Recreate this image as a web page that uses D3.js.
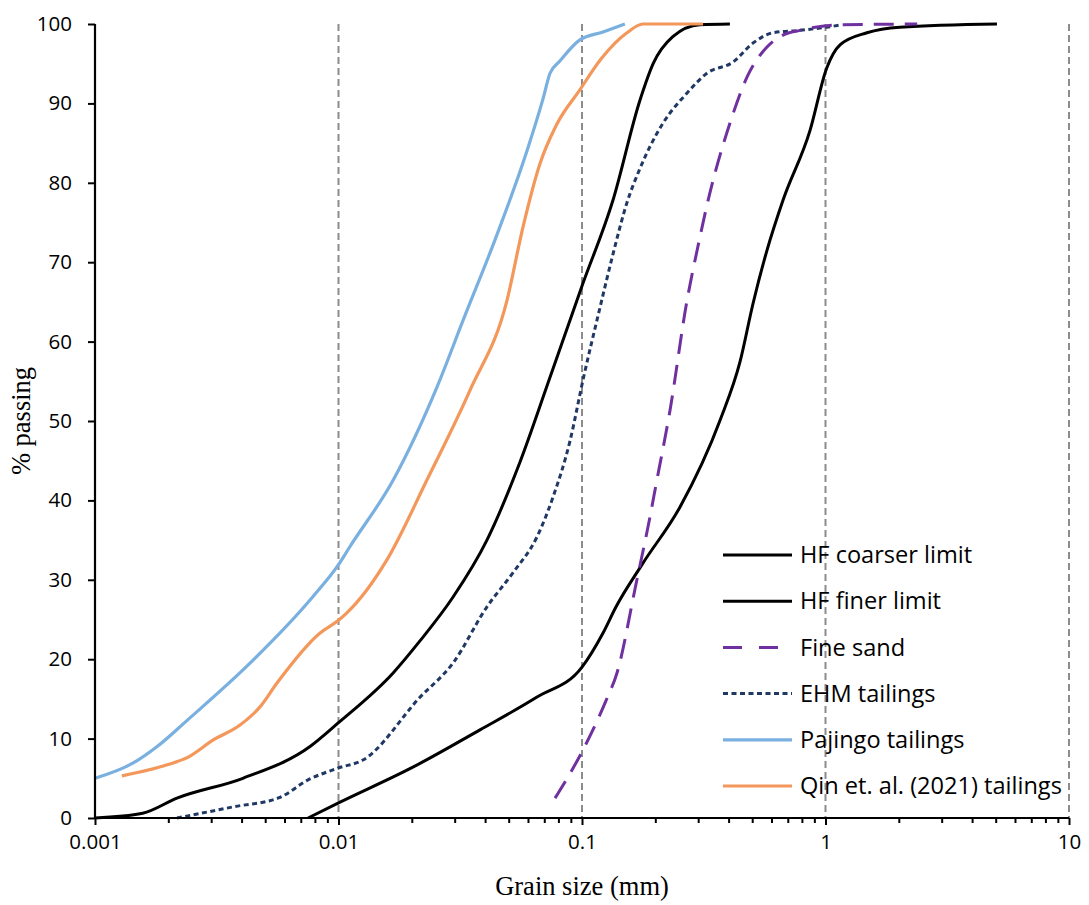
<!DOCTYPE html>
<html><head><meta charset="utf-8">
<script src="https://cdn.jsdelivr.net/npm/d3@7"></script>
<style>body{margin:0;background:#fff}</style>
</head><body>
<svg id="c" width="1089" height="905"></svg>
<script>
const seriesNames = ["HF coarser limit","HF finer limit","Fine sand","EHM tailings","Pajingo tailings","Qin et. al. (2021) tailings"];
const xTicks = [0.001, 0.01, 0.1, 1, 10];
const xTickLabels = ["0.001","0.01","0.1","1","10"];
const yTicks = [0,10,20,30,40,50,60,70,80,90,100];

const hfLeftX = [0.001,0.00157,0.00217,0.00405,0.00764,0.01,0.0168,0.0216,0.0295,0.0407,0.0556,0.0739,0.1,0.134,0.173,0.196,0.236,0.305,0.405];
const hfLeftY = [0,0.6,2.5,5.0,9.0,12,18.3,22.3,27.8,35.0,44.8,55.5,67,77.8,90.4,95,98.4,99.9,100];

const hfRightX = [0.0075,0.01,0.0202,0.0381,0.0651,0.1,0.122,0.138,0.178,0.253,0.369,0.446,0.504,0.575,0.669,0.864,1.01,1.15,1.48,2.02,5.06];
const hfRightY = [0,1.9,6.4,11.1,15.2,19,23.3,26.6,32.1,39.2,50.1,57.5,64.8,71.5,77.8,86.6,94.4,97.4,98.9,99.6,100];

const sandX = [0.0775,0.101,0.126,0.139,0.167,0.189,0.202,0.230,0.270,0.297,0.335,0.405,0.476,0.575,0.669,0.786,1.15,2.38];
const sandY = [2.5,8.6,14.9,18.2,29.6,37.5,42.2,51.4,65.2,71.5,78.7,87.5,93.3,97.1,98.6,99.2,99.9,100];

const ehmX = [0.00217,0.00369,0.00575,0.0075,0.01,0.0126,0.0216,0.0295,0.0407,0.0521,0.0653,0.076,0.0893,0.101,0.119,0.134,0.153,0.173,0.215,0.270,0.326,0.417,0.504,0.609,0.786,1.01,1.17];
const ehmY = [0,1.4,2.6,4.8,6.3,7.3,15.2,19.5,26.6,30.9,35.4,40.4,47.5,55.2,64.5,71.0,77.5,81.8,87.5,91.3,93.8,95.2,97.6,98.9,99.2,99.6,99.9];

const pajX = [0.001,0.00143,0.0018,0.00239,0.00433,0.00786,0.01,0.0111,0.0168,0.0254,0.0325,0.0448,0.0594,0.0692,0.0739,0.0809,0.098,0.122,0.150];
const pajY = [5.0,6.9,9.0,12.3,19.5,27.9,31.9,34.1,42.6,54.3,62.7,73.5,84,90.6,93.8,95.3,98,99,100];

const qinX = [0.00129,0.00198,0.00239,0.00305,0.00394,0.00476,0.00559,0.0084,0.01,0.0108,0.0158,0.0231,0.0347,0.0492,0.0572,0.0672,0.0786,0.098,0.119,0.153,0.178,0.314];
const qinY = [5.3,6.7,7.6,9.8,11.7,14,17,23.3,24.9,25.8,32.5,42.6,53.9,65.2,74.4,82.4,87.3,91.7,95.5,98.9,100,100];

const colors = ["#000000","#000000","#7030A0","#203864","#7AB0E0","#F4975A"];
const dashes = [null,null,"20,11","5,3.5",null,null];
const widths = [3,3,3,3,3.2,3.2];
const seriesX = [hfLeftX, hfRightX, sandX, ehmX, pajX, qinX];
const seriesY = [hfLeftY, hfRightY, sandY, ehmY, pajY, qinY];

const svg = d3.select("#c");
const L = 95, R = 1069, T = 24, B = 818;
const x = d3.scaleLog().domain([0.001, 10]).range([L, R]);
const y = d3.scaleLinear().domain([0, 100]).range([B, T]);
const numFont = "'Open Sans', Lato, sans-serif";
const serif = "'Liberation Serif', 'Times New Roman', serif";

// gridlines
svg.append("g").selectAll("line").data(xTicks.slice(1)).join("line")
  .attr("x1", d => x(d)).attr("x2", d => x(d)).attr("y1", T).attr("y2", B)
  .attr("stroke", "#8c8c8c").attr("stroke-width", 2).attr("stroke-dasharray", "7,4");

// series
const line = d3.line().x(d => x(d[0])).y(d => y(d[1])).curve(d3.curveMonotoneX);
const order = [0,1,3,2,4,5];
order.forEach(i => {
  const pts = seriesX[i].map((v, j) => [v, seriesY[i][j]]);
  const p = svg.append("path").datum(pts).attr("d", line)
    .attr("fill", "none").attr("stroke", colors[i]).attr("stroke-width", widths[i])
    .attr("stroke-linejoin", "round");
  if (dashes[i]) p.attr("stroke-dasharray", dashes[i]);
});

// y axis
const yAxis = d3.axisLeft(y).tickValues(yTicks).tickSize(7).tickFormat(d3.format("d"));
const gy = svg.append("g").attr("transform", `translate(${L},0)`).call(yAxis);
gy.select(".domain").attr("stroke", "#000").attr("stroke-width", 2.2).attr("d", `M0,${T}V${B}`);
gy.selectAll(".tick line").attr("stroke", "#000").attr("stroke-width", 2);
gy.selectAll(".tick text").attr("font-family", numFont).attr("font-size", 20.5).attr("fill", "#000").attr("x", -23);

// x axis
const minor = [];
for (let e = -3; e < 1; e++) for (let k = 2; k <= 9; k++) minor.push(k * Math.pow(10, e));
const gxm = svg.append("g").attr("transform", `translate(0,${B})`)
  .call(d3.axisBottom(x).tickValues(minor).tickSize(5).tickFormat(""));
gxm.select(".domain").remove();
gxm.selectAll(".tick line").attr("stroke", "#000").attr("stroke-width", 2);
const gx = svg.append("g").attr("transform", `translate(0,${B})`)
  .call(d3.axisBottom(x).tickValues(xTicks).tickSize(7).tickFormat((d, i) => xTickLabels[i]));
gx.select(".domain").attr("stroke", "#000").attr("stroke-width", 2.2).attr("d", `M${L},0H${R}`);
gx.selectAll(".tick line").attr("stroke", "#000").attr("stroke-width", 2);
gx.selectAll(".tick text").attr("font-family", numFont).attr("font-size", 20.5).attr("fill", "#000").attr("y", 16);

// axis titles
svg.append("text").attr("x", 582).attr("y", 895).attr("text-anchor", "middle")
  .attr("font-family", serif).attr("font-size", 26.5).text("Grain size (mm)");
svg.append("text").attr("transform", "translate(30,421) rotate(-90)").attr("text-anchor", "middle")
  .attr("font-family", serif).attr("font-size", 26.5).text("% passing");

// legend
const legY0 = 555, legStep = 46.2;
const legTexts = [];
seriesNames.forEach((name, i) => {
  const yy = legY0 + i * legStep;
  const l = svg.append("line").attr("x1", 723).attr("x2", 792).attr("y1", yy).attr("y2", yy)
    .attr("stroke", colors[i]).attr("stroke-width", widths[i]);
  if (i === 2) l.attr("stroke-dasharray", "19,17");
  if (i === 3) l.attr("stroke-dasharray", "5,3.5");
  legTexts.push(svg.append("text").attr("x", 800).attr("y", yy).attr("dy", "0.35em")
    .attr("font-family", numFont).attr("font-size", 20).attr("fill", "#000").text(name));
});
// fit legend font so the longest label spans the same width as in the original
const w = legTexts[5].node().getComputedTextLength();
const fs = 20 * 262 / w;
legTexts.forEach(t => t.attr("font-size", fs));
</script>
</body></html>
